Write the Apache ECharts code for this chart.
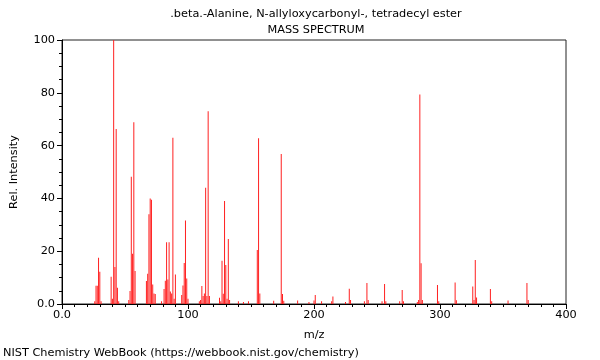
<!DOCTYPE html>
<html>
<head>
<meta charset="utf-8">
<script src="https://cdn.jsdelivr.net/npm/echarts@6/dist/echarts.min.js"></script>
<style>
html,body{margin:0;padding:0;background:#fff;}
#chart{width:600px;height:360px;}
</style>
</head>
<body>
<div id="chart"></div>
<script>
const titleText = '.beta.-Alanine, N-allyloxycarbonyl-, tetradecyl ester';
const subTitleText = 'MASS SPECTRUM';
const footerText = 'NIST Chemistry WebBook (https://webbook.nist.gov/chemistry)';
const xName = 'm/z';
const yName = 'Rel. Intensity';

const mzValues = [26,27,28,29,30,31,39,40,41,42,43,44,45,53,54,55,56,57,58,67,68,69,70,71,72,73,74,79,81,82,83,84,85,86,87,88,89,90,95,96,97,98,99,100,109,110,111,112,113,114,115,116,117,125,126,127,128,129,130,131,132,133,140,144,148,155,156,157,168,174,175,176,187,196,200,201,206,214,215,225,228,229,240,242,243,254,256,257,268,270,271,282,283,284,285,286,298,299,312,313,326,327,328,329,340,341,354,369,370];
const intensities = [1,6.9,6.9,17.5,12.2,1,10.3,2,100,14,66.3,6.2,1,1.5,4.9,48.2,19,68.8,12.5,8.7,11.5,34,40,39.5,7.4,4,3.8,1,5.7,8.8,23.4,9.3,23.4,4.7,4,63,2,11.2,3.4,7,15.5,31.6,9.7,2,1,1.5,6.8,3,4,44,3,73,3,2.4,1,16.4,3.9,39,14.8,2,24.6,1.5,1,0.8,1,20.5,62.8,4,1.2,56.8,3.8,1.2,1.3,0.8,1.3,3.4,1,1,2.8,0.8,5.8,1.5,1,8,1.5,1,7.6,1,1,5.3,1,0.8,1.5,79.4,15.4,1.5,7.2,1,8.1,1.4,6.6,1.5,16.7,2.5,5.7,1,1.3,8,1.5];

const xTickLabels = {0:'0.0',100:'100',200:'200',300:'300',400:'400'};
const yTickLabels = {0:'0.0',20:'20',40:'40',60:'60',80:'80',100:'100'};

const seriesData = mzValues.map((m, i) => [m, intensities[i]]);
const font = 'DejaVu Sans';
const fs = 11.3;

const chart = echarts.init(document.getElementById('chart'), null, {renderer:'canvas'});
chart.setOption({
  animation: false,
  backgroundColor: '#fff',
  grid: {left: 62, right: 34, top: 40, bottom: 56, show: true, borderColor: '#222', borderWidth: 1, containLabel: false},
  xAxis: {
    type: 'value', min: 0, max: 400, interval: 100,
    name: xName, nameLocation: 'middle', nameGap: 26,
    nameTextStyle: {fontFamily: font, fontSize: fs, color: '#000'},
    axisLine: {show: true, lineStyle: {color: '#000', width: 1}},
    axisTick: {show: true, length: 5, lineStyle: {color: '#000'}},
    minorTick: {show: true, splitNumber: 10, length: 3, lineStyle: {color: '#000'}},
    splitLine: {show: false},
    axisLabel: {fontFamily: font, fontSize: fs, color: '#000', margin: 6, formatter: v => xTickLabels[v] !== undefined ? xTickLabels[v] : ''}
  },
  yAxis: {
    type: 'value', min: 0, max: 100, interval: 20,
    name: yName, nameLocation: 'middle', nameGap: 42, nameRotate: 90,
    nameTextStyle: {fontFamily: font, fontSize: fs, color: '#000'},
    axisLine: {show: true, lineStyle: {color: '#000', width: 1}},
    axisTick: {show: true, length: 5, lineStyle: {color: '#000'}},
    minorTick: {show: true, splitNumber: 4, length: 3, lineStyle: {color: '#000'}},
    splitLine: {show: false},
    axisLabel: {fontFamily: font, fontSize: fs, color: '#000', margin: 7, formatter: v => yTickLabels[v] !== undefined ? yTickLabels[v] : ''}
  },
  graphic: [
    {type: 'text', x: 316, y: 14, style: {text: titleText, font: fs + 'px "DejaVu Sans"', fill: '#000', textAlign: 'center', textVerticalAlign: 'middle'}},
    {type: 'text', x: 316, y: 30, style: {text: subTitleText, font: fs + 'px "DejaVu Sans"', fill: '#000', textAlign: 'center', textVerticalAlign: 'middle'}},
    {type: 'text', x: 3, y: 353, style: {text: footerText, font: fs + 'px "DejaVu Sans"', fill: '#000', textAlign: 'left', textVerticalAlign: 'middle'}}
  ],
  series: [{
    type: 'bar',
    data: seriesData,
    barWidth: 1,
    itemStyle: {color: '#ff2020'},
    silent: true
  }]
});
</script>
</body>
</html>
